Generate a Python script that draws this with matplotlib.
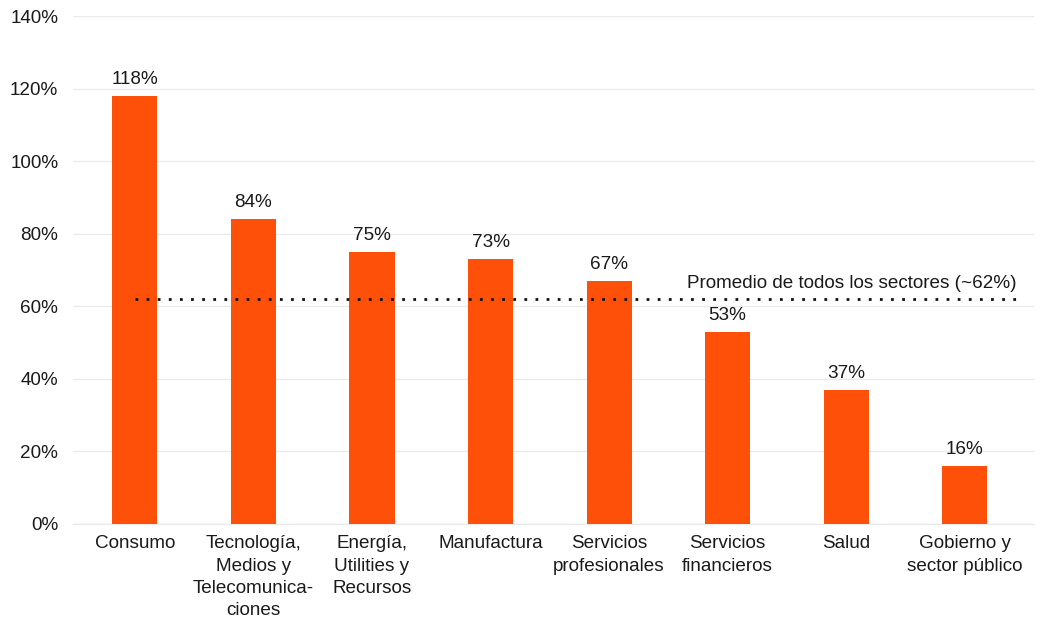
import matplotlib
matplotlib.use("Agg")
import matplotlib.pyplot as plt
from matplotlib.ticker import FuncFormatter

plt.rcParams['font.family'] = ['Liberation Sans', 'DejaVu Sans']

categories = [
    "Consumo",
    "Tecnología,\nMedios y\nTelecomunica-\nciones",
    "Energía,\nUtilities y\nRecursos",
    "Manufactura",
    "Servicios\nprofesionales",
    "Servicios\nfinancieros",
    "Salud",
    "Gobierno y\nsector público",
]
values = [118, 84, 75, 73, 67, 53, 37, 16]
average = 62
average_label = "Promedio de todos los sectores (~62%)"
yticks = [0, 20, 40, 60, 80, 100, 120, 140]

bar_color = "#FF5009"
grid_color = "#EBEBEB"
text_color = "#1a1a1a"
fs = 13.6

fig = plt.figure(figsize=(10.41, 6.23), dpi=100)
ax = fig.add_axes([0.070, 0.159, 0.923, 0.815])

x = list(range(len(categories)))
ax.bar(x, values, width=0.38, color=bar_color, zorder=3)

for xi, v in zip(x, values):
    ax.text(xi, v + 2.2, f"{v}%", ha="center", va="bottom", fontsize=fs, color=text_color, zorder=4)

ax.plot([0, 7.47], [average, average], linestyle=(0, (1, 3.0)), color="#111111", linewidth=2.0, zorder=4)
ax.text(7.44, average + 4.3, average_label, ha="right", va="center", fontsize=fs, color=text_color)

ax.set_xlim(-0.524, 7.583)
ax.set_ylim(0, 140)
ax.set_yticks(yticks)
ax.yaxis.set_major_formatter(FuncFormatter(lambda v, p: f"{int(v)}%"))
ax.set_xticks(x)
ax.set_xticklabels(categories, fontsize=fs, color=text_color, linespacing=1.42, va="top")
ax.tick_params(axis="y", labelsize=fs, labelcolor=text_color, length=0, pad=10.5)
ax.tick_params(axis="x", length=0, pad=8)

ax.grid(axis="y", color=grid_color, linewidth=1.0, zorder=0)
for s in ["top", "right", "left"]:
    ax.spines[s].set_visible(False)
ax.spines["bottom"].set_color(grid_color)
ax.spines["bottom"].set_linewidth(1.0)

fig.savefig("out.png", dpi=100)
